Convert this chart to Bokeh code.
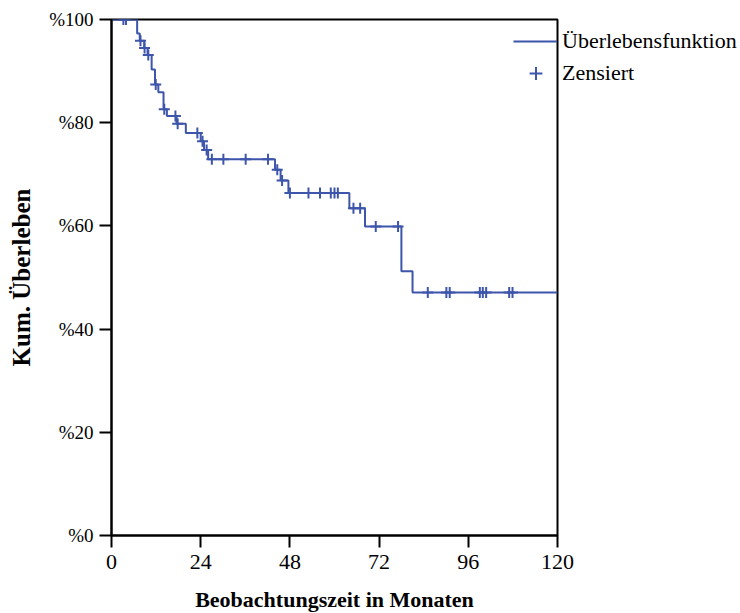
from bokeh.plotting import figure
from bokeh.models import Range1d, FixedTicker, Legend, LegendItem
from bokeh.embed import file_html
from bokeh.resources import INLINE

# Kaplan-Meier steps: time of drop (months) and survival after drop (%)
km_time = [0, 6.9, 7.6, 8.8, 9.7, 10.8, 11.7, 12.6, 14.0, 14.9, 17.5, 20.0,
           24.0, 24.9, 26.0, 44.0, 45.5, 47.6, 64.0, 68.2, 78.0, 81.0]
km_surv = [100, 97.3, 95.9, 94.5, 93.1, 90.3, 87.4, 85.9, 82.6, 81.3, 79.8, 78.0,
           76.4, 74.7, 72.9, 70.9, 68.8, 66.4, 63.4, 59.9, 51.2, 47.1]
end_time = 120

# censored observations
cens_time = [3.2, 3.9, 7.8, 8.9, 9.9, 11.9, 14.2, 17.2, 17.8, 23.1, 24.5, 25.6,
             27.0, 30.1, 36.1, 42.1, 44.6, 45.9, 48.0, 53.0, 56.1, 59.0, 60.0, 60.9,
             65.1, 66.9, 71.1, 77.1, 85.1, 90.1, 91.0, 99.1, 99.9, 100.8, 107.0, 107.9]

x_ticks = [0, 24, 48, 72, 96, 120]
y_ticks = [0, 20, 40, 60, 80, 100]
y_labels = ["%0", "%20", "%40", "%60", "%80", "%100"]

legend_labels = ["Überlebensfunktion", "Zensiert"]
x_title = "Beobachtungszeit in Monaten"
y_title = "Kum. Überleben"

def surv_at(t):
    s = km_surv[0]
    for tt, ss in zip(km_time, km_surv):
        if tt <= t:
            s = ss
    return s

cens_surv = [surv_at(t) for t in cens_time]

FONT = "Liberation Serif"
BLUE = "#3d55ab"

p = figure(width=740, height=613, output_backend="svg", toolbar_location=None,
           x_range=Range1d(0, 120), y_range=Range1d(0, 100),
           frame_width=446, frame_height=516,
           min_border_left=111, min_border_right=183, min_border_top=19,
           min_border_bottom=78)
p.grid.visible = False
p.outline_line_color = "black"
p.outline_line_width = 2
p.background_fill_color = "white"
p.border_fill_color = "white"

xs = km_time + [end_time]
ys = km_surv + [km_surv[-1]]
r_line = p.step(xs, ys, mode="after", line_color=BLUE, line_width=2)
r_cens = p.scatter(cens_time, cens_surv, marker="cross", size=11, line_color=BLUE,
                   line_width=2)

for ax in (p.xaxis[0], p.yaxis[0]):
    ax.axis_line_color = "black"
    ax.axis_line_width = 2
    ax.major_tick_line_color = "black"
    ax.major_tick_line_width = 2
    ax.major_tick_out = 12
    ax.major_tick_in = 0
    ax.minor_tick_out = 0
    ax.minor_tick_in = 0
    ax.major_label_text_font = FONT
    ax.major_label_text_color = "black"
    ax.axis_label_text_font = FONT
    ax.axis_label_text_font_style = "bold"
    ax.axis_label_text_color = "black"

p.xaxis.major_label_text_font_size = "22px"
p.yaxis.major_label_text_font_size = "19px"
p.xaxis.axis_label_text_font_size = "22px"
p.yaxis.axis_label_text_font_size = "25px"
p.xaxis.ticker = FixedTicker(ticks=x_ticks)
p.yaxis.ticker = FixedTicker(ticks=y_ticks)
p.yaxis.major_label_overrides = {t: l for t, l in zip(y_ticks, y_labels)}
p.xaxis.axis_label = x_title
p.yaxis.axis_label = y_title
p.xaxis.major_label_standoff = 7
p.yaxis.major_label_standoff = 6
p.xaxis.axis_label_standoff = 15
p.yaxis.axis_label_standoff = 11

# legend symbols (inside the frame corner)
sym_legend = Legend(items=[LegendItem(label=" ", renderers=[r_line]),
                           LegendItem(label=" ", renderers=[r_cens])],
                    location=(402, 446), orientation="vertical",
                    glyph_width=45, glyph_height=32, label_height=32, spacing=0,
                    label_standoff=0, label_width=0, padding=0, margin=0,
                    border_line_color=None, background_fill_alpha=0,
                    label_text_font_size="1px")
p.add_layout(sym_legend, "center")

# legend texts (right of the frame)
txt_legend = Legend(items=[LegendItem(label=legend_labels[0], renderers=[r_line]),
                           LegendItem(label=legend_labels[1], renderers=[r_cens])],
                    location=(0, 446), orientation="vertical",
                    glyph_width=0, glyph_height=32, label_height=32, spacing=0,
                    label_standoff=5, padding=0, margin=0,
                    border_line_color=None, background_fill_alpha=0,
                    label_text_font=FONT, label_text_font_size="22px",
                    label_text_color="black")
p.add_layout(txt_legend, "right")

open("out.html", "w").write(file_html(p, INLINE))
